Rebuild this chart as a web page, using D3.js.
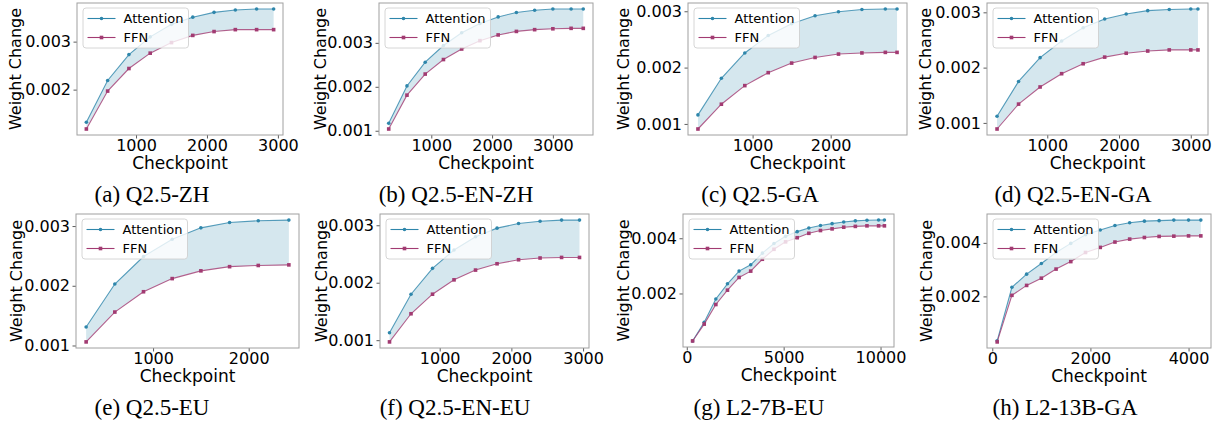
<!DOCTYPE html>
<html><head><meta charset="utf-8">
<script src="https://cdn.jsdelivr.net/npm/d3@7"></script>
<style>body{margin:0;background:#fff} svg{display:block}</style>
</head><body>
<svg id="chart" width="1220" height="425"></svg>
<script>
// ---------- DATA ----------
const captions = ["(a) Q2.5-ZH","(b) Q2.5-EN-ZH","(c) Q2.5-GA","(d) Q2.5-EN-GA",
                  "(e) Q2.5-EU","(f) Q2.5-EN-EU","(g) L2-7B-EU","(h) L2-13B-GA"];
const seriesNames = ["Attention","FFN"];
const yLabel = "Weight Change";
const xLabel = "Checkpoint";

const ckptA = [300,600,900,1200,1500,1800,2100,2400,2700,2940];
const attA  = [0.00132,0.00219,0.00273,0.00310,0.00336,0.00351,0.00361,0.00366,0.00368,0.00368];
const ffnA  = [0.00118,0.00197,0.00244,0.00276,0.00298,0.00313,0.00321,0.00325,0.00325,0.00325];

const ckptB = [300,600,900,1200,1500,1800,2100,2400,2700,3000,3300,3500];
const attB  = [0.00117,0.00202,0.00256,0.00294,0.00323,0.00344,0.00359,0.00369,0.00374,0.00377,0.00377,0.00377];
const ffnB  = [0.00104,0.00181,0.00229,0.00262,0.00286,0.00305,0.00318,0.00326,0.00330,0.00332,0.00333,0.00333];

const ckptC = [300,600,900,1200,1500,1800,2100,2400,2700,2850];
const attC  = [0.00116,0.00181,0.00226,0.00257,0.00278,0.00292,0.00299,0.00303,0.00304,0.00304];
const ffnC  = [0.00091,0.00135,0.00168,0.00191,0.00208,0.00218,0.00224,0.00226,0.00227,0.00227];

const ckptD = [300,600,900,1200,1500,1800,2100,2400,2700,3000,3100];
const attD  = [0.00112,0.00175,0.00218,0.00248,0.00272,0.00288,0.00297,0.00303,0.00305,0.00306,0.00306];
const ffnD  = [0.00089,0.00134,0.00165,0.00189,0.00207,0.00219,0.00226,0.00230,0.00232,0.00232,0.00232];

const ckptE = [300,600,900,1200,1500,1800,2100,2420];
const attE  = [0.00131,0.00203,0.00249,0.00278,0.00297,0.00306,0.00309,0.00310];
const ffnE  = [0.00106,0.00156,0.00190,0.00212,0.00225,0.00232,0.00234,0.00235];

const ckptF = [300,600,900,1200,1500,1800,2100,2400,2700,2950];
const attF  = [0.00113,0.00180,0.00225,0.00257,0.00280,0.00295,0.00303,0.00307,0.00309,0.00309];
const ffnF  = [0.00097,0.00146,0.00180,0.00205,0.00222,0.00233,0.00240,0.00243,0.00244,0.00244];

const ckptG = [300,900,1500,2100,2700,3300,3900,4500,5100,5700,6300,6900,7500,8100,8700,9300,9900,10200];
const attG  = [0.00028,0.00096,0.00180,0.00235,0.00281,0.00304,0.00346,0.00381,0.00407,0.00424,0.00437,0.00446,0.00453,0.00459,0.00463,0.00465,0.00466,0.00466];
const ffnG  = [0.00028,0.00089,0.00160,0.00212,0.00258,0.00281,0.00324,0.00360,0.00387,0.00402,0.00418,0.00428,0.00434,0.00440,0.00443,0.00445,0.00445,0.00445];

const ckptH = [100,400,700,1000,1300,1600,1900,2200,2500,2800,3100,3400,3700,4000,4250];
const attH  = [0.00034,0.00234,0.00283,0.00323,0.00364,0.00398,0.00430,0.00448,0.00465,0.00475,0.00481,0.00483,0.00485,0.00485,0.00485];
const ffnH  = [0.00030,0.00204,0.00241,0.00268,0.00302,0.00330,0.00364,0.00383,0.00403,0.00414,0.00420,0.00424,0.00425,0.00426,0.00426];

// tick labels
const yTicksA = [0.002,0.003];        const xTicksA = [1000,2000,3000];
const yTicksB = [0.001,0.002,0.003];  const xTicksB = [1000,2000,3000];
const yTicksC = [0.001,0.002,0.003];  const xTicksC = [1000,2000];
const yTicksD = [0.001,0.002,0.003];  const xTicksD = [1000,2000,3000];
const yTicksE = [0.001,0.002,0.003];  const xTicksE = [1000,2000];
const yTicksF = [0.001,0.002,0.003];  const xTicksF = [1000,2000,3000];
const yTicksG = [0.002,0.004];        const xTicksG = [0,5000,10000];
const yTicksH = [0.002,0.004];        const xTicksH = [0,2000,4000];

// ---------- LAYOUT / STYLE ----------
const boxes = [[77,3,283,135],[379,3,593,135],[688,3,907,135],[987,3,1208,135],
               [76,214,299,348],[380,214,589,348],[683,214,894,347],[987,214,1211,348]];
const yLabelX = [15.5,320,623,925.5,16.7,321,623,926.5];
const captionX = [152,456,760,1073,152,455,759,1065];
const captionY = [202,202,202,202,415,415,415,415];
const COL_ATT = "#2E86AB", COL_FFN = "#A23B72";
const SANS = "DejaVu Sans, sans-serif";
const SERIF = "Liberation Serif, Times New Roman, serif";

const panels = [
  [ckptA,attA,ffnA,xTicksA,yTicksA],[ckptB,attB,ffnB,xTicksB,yTicksB],
  [ckptC,attC,ffnC,xTicksC,yTicksC],[ckptD,attD,ffnD,xTicksD,yTicksD],
  [ckptE,attE,ffnE,xTicksE,yTicksE],[ckptF,attF,ffnF,xTicksF,yTicksF],
  [ckptG,attG,ffnG,xTicksG,yTicksG],[ckptH,attH,ffnH,xTicksH,yTicksH]
];

const svg = d3.select("#chart");

function pad(ext){ const r = ext[1]-ext[0]; return [ext[0]-0.05*r, ext[1]+0.05*r]; }

panels.forEach((p, i) => {
  const [ck, att, ffn, xt, yt] = p;
  const [L,T,R,B] = boxes[i];
  const pts = ck.map((c,k)=>({c, a:att[k], f:ffn[k]}));
  const x = d3.scaleLinear().domain(pad(d3.extent(ck))).range([L,R]);
  const y = d3.scaleLinear().domain(pad([d3.min(att.concat(ffn)), d3.max(att.concat(ffn))])).range([B,T]);
  const g = svg.append("g");

  // fill between
  g.append("path").datum(pts)
    .attr("d", d3.area().x(d=>x(d.c)).y0(d=>y(d.f)).y1(d=>y(d.a)))
    .attr("fill", COL_ATT).attr("fill-opacity", 0.2).attr("stroke","none");

  // lines + markers
  [["a",COL_ATT,"circle"],["f",COL_FFN,"square"]].forEach(([key,col,shape])=>{
    g.append("path").datum(pts)
      .attr("d", d3.line().x(d=>x(d.c)).y(d=>y(d[key])))
      .attr("fill","none").attr("stroke",col).attr("stroke-width",1.1).attr("stroke-opacity",0.8);
    if (shape==="circle") {
      g.selectAll(null).data(pts).enter().append("circle")
        .attr("cx",d=>x(d.c)).attr("cy",d=>y(d[key])).attr("r",1.8).attr("fill",col);
    } else {
      g.selectAll(null).data(pts).enter().append("rect")
        .attr("x",d=>x(d.c)-1.8).attr("y",d=>y(d[key])-1.8).attr("width",3.6).attr("height",3.6).attr("fill",col);
    }
  });

  // axes
  const ax = g.append("g").attr("transform",`translate(0,${B})`)
    .call(d3.axisBottom(x).tickValues(xt).tickFormat(d3.format("d")).tickSize(3.5).tickPadding(1.5));
  const ay = g.append("g").attr("transform",`translate(${L},0)`)
    .call(d3.axisLeft(y).tickValues(yt).tickFormat(d3.format(".3f")).tickSize(3.5).tickPadding(2.5));
  [ax,ay].forEach(a=>{
    a.select(".domain").remove();
    a.selectAll("line").attr("stroke","#333").attr("stroke-width",0.8);
    a.selectAll("text").attr("font-family",SANS).attr("font-size",16).attr("fill","#000");
  });

  // frame
  g.append("rect").attr("x",L).attr("y",T).attr("width",R-L).attr("height",B-T)
    .attr("fill","none").attr("stroke","#a0a0a0").attr("stroke-width",1);

  // axis labels
  g.append("text").attr("x",(L+R)/2).attr("y",B+34).attr("text-anchor","middle")
    .attr("font-family",SANS).attr("font-size",17).text(xLabel);
  g.append("text").attr("transform",`translate(${yLabelX[i]+5.5},${(T+B)/2}) rotate(-90)`)
    .attr("text-anchor","middle").attr("font-family",SANS).attr("font-size",16).text(yLabel);

  // legend
  const lg = g.append("g").attr("transform",`translate(${L+6},${T+5})`);
  const bg = lg.append("rect").attr("rx",3).attr("height",40)
    .attr("fill","#fff").attr("fill-opacity",0.8).attr("stroke","#cccccc").attr("stroke-width",0.8);
  let maxW = 0;
  seriesNames.forEach((nm,k)=>{
    const cy = 10.5 + k*19;
    const col = k===0 ? COL_ATT : COL_FFN;
    lg.append("line").attr("x1",4.5).attr("x2",32.5).attr("y1",cy).attr("y2",cy)
      .attr("stroke",col).attr("stroke-width",1.1);
    if (k===0) lg.append("circle").attr("cx",18.5).attr("cy",cy).attr("r",1.8).attr("fill",col);
    else lg.append("rect").attr("x",16.7).attr("y",cy-1.8).attr("width",3.6).attr("height",3.6).attr("fill",col);
    const t = lg.append("text").attr("x",40.5).attr("y",cy+4.6)
      .attr("font-family",SANS).attr("font-size",13).text(nm);
    maxW = Math.max(maxW, t.node().getComputedTextLength());
  });
  bg.attr("width", 40.5 + maxW + 5);

  // caption
  svg.append("text").attr("x",captionX[i]).attr("y",captionY[i]).attr("text-anchor","middle")
    .attr("font-family",SERIF).attr("font-size",23).attr("fill","#000").text(captions[i]);
});
</script>
</body></html>
